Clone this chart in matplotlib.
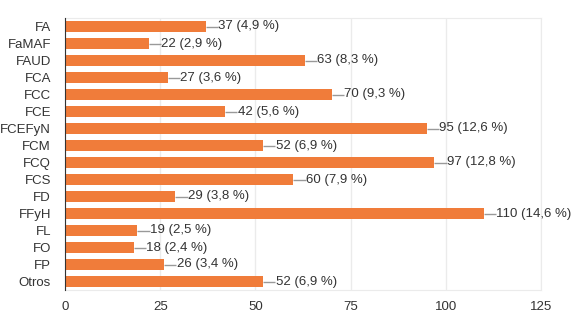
import numpy as np
import matplotlib.pyplot as plt

# Data
categories = ["FA", "FaMAF", "FAUD", "FCA", "FCC", "FCE", "FCEFyN", "FCM",
              "FCQ", "FCS", "FD", "FFyH", "FL", "FO", "FP", "Otros"]
counts = [37, 22, 63, 27, 70, 42, 95, 52, 97, 60, 29, 110, 19, 18, 26, 52]
percents = ["4,9", "2,9", "8,3", "3,6", "9,3", "5,6", "12,6", "6,9",
            "12,8", "7,9", "3,8", "14,6", "2,5", "2,4", "3,4", "6,9"]
xticks = [0, 25, 50, 75, 100, 125]

plt.rcParams['font.family'] = ['Liberation Sans', 'DejaVu Sans']
text_color = "#333333"

fig = plt.figure(figsize=(5.74, 3.28), dpi=100)
ax = fig.add_axes([65 / 574, 1 - 290 / 328, 476 / 574, 272 / 328])

y = np.arange(len(categories))
ax.barh(y, counts, height=0.6, color="#F07C3A", zorder=3)

for yi, c, p in zip(y, counts, percents):
    ax.plot([c, c + 3.2], [yi, yi], color="#999999", lw=1, zorder=3,
            solid_capstyle="butt")
    ax.text(c + 3.3, yi, f"{c} ({p} %)", va="center", ha="left",
            fontsize=9.5, color=text_color)

ax.set_xlim(0, 125)
ax.set_ylim(len(categories) - 0.5, -0.5)
ax.set_yticks(y)
ax.set_yticklabels(categories, fontsize=9.5, color=text_color)
ax.set_xticks(xticks)
ax.set_xticklabels([str(t) for t in xticks], fontsize=9.5, color=text_color)
ax.tick_params(axis="both", length=0)
ax.tick_params(axis="y", pad=10)
ax.tick_params(axis="x", pad=8)

ax.grid(axis="x", color="#ebebeb", lw=1, zorder=0)
for s in ["top", "right", "bottom"]:
    ax.spines[s].set_color("#ebebeb")
ax.spines["left"].set_color("#333333")
ax.spines["left"].set_zorder(4)

fig.savefig("out.png", dpi=100)
